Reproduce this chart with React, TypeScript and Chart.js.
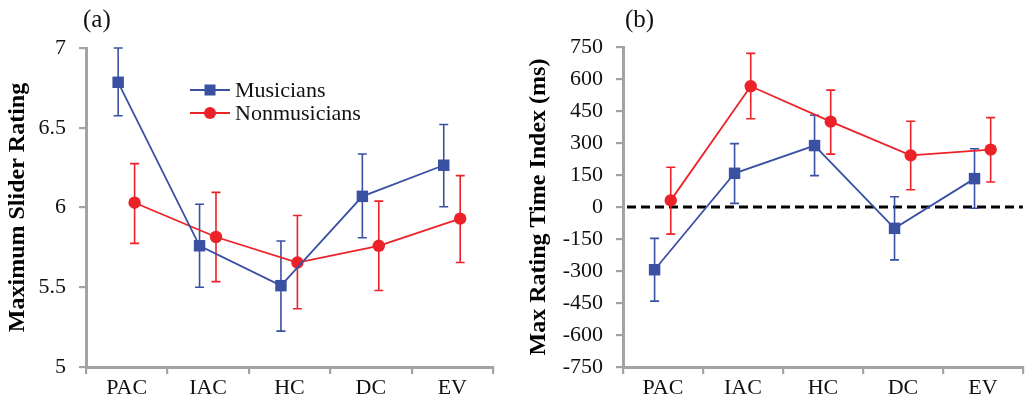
import { useEffect, useRef } from 'react';
import { Chart, registerables } from 'chart.js';

Chart.register(...registerables);

// ---------- data ----------
const categories = ['PAC', 'IAC', 'HC', 'DC', 'EV'];
const seriesNames = ['Musicians', 'Nonmusicians'];

// Panel (a): Maximum Slider Rating
const ratingMusicians = [6.785, 5.76, 5.51, 6.07, 6.265];
const ratingMusiciansHigh = [7.0, 6.02, 5.79, 6.335, 6.52];
const ratingMusiciansLow = [6.575, 5.5, 5.225, 5.81, 6.005];
const ratingNonmusicians = [6.03, 5.815, 5.655, 5.76, 5.93];
const ratingNonmusiciansHigh = [6.275, 6.095, 5.95, 6.04, 6.2];
const ratingNonmusiciansLow = [5.775, 5.535, 5.365, 5.48, 5.655];
const ratingTicks = [5, 5.5, 6, 6.5, 7];

// Panel (b): Max Rating Time Index (ms)
const timeMusicians = [-294, 158, 288, -100, 133];
const timeMusiciansHigh = [-147, 297, 430, 48, 273];
const timeMusiciansLow = [-441, 17, 147, -248, -6];
const timeNonmusicians = [31, 566, 400, 242, 269];
const timeNonmusiciansHigh = [186, 720, 548, 402, 419];
const timeNonmusiciansLow = [-127, 414, 248, 81, 117];
const timeTicks = [-750, -600, -450, -300, -150, 0, 150, 300, 450, 600, 750];
const referenceLine = 0;

// ---------- styles ----------
const BLUE = '#3a51a3';
const RED = '#ec2229';
const GRAY = '#a3a3a3';
const FONT = '"Liberation Serif", "Times New Roman", serif';
const OFFSET_M = -0.105;
const OFFSET_N = 0.097;

const errorBarPlugin = {
  id: 'errorBars',
  beforeDatasetsDraw(chart: any) {
    const ctx = chart.ctx;
    const yScale = chart.scales.y;
    chart.data.datasets.forEach((ds: any, i: number) => {
      const meta = chart.getDatasetMeta(i);
      if (!ds.errHigh) return;
      ctx.save();
      ctx.strokeStyle = ds.borderColor;
      ctx.lineWidth = 1.6;
      meta.data.forEach((pt: any, j: number) => {
        const x = pt.x;
        const yh = yScale.getPixelForValue(ds.errHigh[j]);
        const yl = yScale.getPixelForValue(ds.errLow[j]);
        const cap = 4.5;
        ctx.beginPath();
        ctx.moveTo(x, yh);
        ctx.lineTo(x, yl);
        ctx.moveTo(x - cap, yh);
        ctx.lineTo(x + cap, yh);
        ctx.moveTo(x - cap, yl);
        ctx.lineTo(x + cap, yl);
        ctx.stroke();
      });
      ctx.restore();
    });
  },
};

const refLinePlugin = {
  id: 'refLine',
  beforeDatasetsDraw(chart: any, _args: any, opts: any) {
    if (!opts || opts.value === undefined) return;
    const ctx = chart.ctx;
    const y = chart.scales.y.getPixelForValue(opts.value);
    const { left, right } = chart.chartArea;
    ctx.save();
    ctx.strokeStyle = '#000';
    ctx.lineWidth = 3;
    ctx.setLineDash([9, 5]);
    ctx.beginPath();
    ctx.moveTo(left + 4, y);
    ctx.lineTo(right, y);
    ctx.stroke();
    ctx.restore();
  },
};

const panelLabelPlugin = {
  id: 'panelLabel',
  afterDraw(chart: any, _args: any, opts: any) {
    if (!opts || !opts.text) return;
    const ctx = chart.ctx;
    ctx.save();
    ctx.font = `25px ${FONT}`;
    ctx.fillStyle = '#111';
    ctx.textBaseline = 'middle';
    ctx.textAlign = 'left';
    ctx.fillText(opts.text, opts.x, opts.y);
    ctx.restore();
  },
};

const customLegendPlugin = {
  id: 'customLegend',
  afterDraw(chart: any, _args: any, opts: any) {
    if (!opts || !opts.show) return;
    const ctx = chart.ctx;
    chart.data.datasets.forEach((ds: any, i: number) => {
      const y = opts.y + i * opts.rowGap;
      const x0 = opts.x;
      const x1 = opts.x + 40;
      ctx.save();
      ctx.strokeStyle = ds.borderColor;
      ctx.fillStyle = ds.backgroundColor;
      ctx.lineWidth = 1.8;
      ctx.beginPath();
      ctx.moveTo(x0, y);
      ctx.lineTo(x1, y);
      ctx.stroke();
      const cx = (x0 + x1) / 2;
      if (ds.pointStyle === 'rect') {
        ctx.fillRect(cx - 5.5, y - 5.5, 11, 11);
      } else {
        ctx.beginPath();
        ctx.arc(cx, y, 6, 0, Math.PI * 2);
        ctx.fill();
      }
      ctx.font = `22px ${FONT}`;
      ctx.fillStyle = '#111';
      ctx.textBaseline = 'middle';
      ctx.fillText(ds.label, x1 + 5, y + 1);
      ctx.restore();
    });
  },
};

function makeDatasets(
  m: number[], mh: number[], ml: number[],
  n: number[], nh: number[], nl: number[],
) {
  return [
    {
      label: seriesNames[0],
      data: m.map((v, i) => ({ x: i + OFFSET_M, y: v })),
      errHigh: mh,
      errLow: ml,
      borderColor: BLUE,
      backgroundColor: BLUE,
      borderWidth: 1.8,
      pointStyle: 'rect',
      pointRadius: 8.1,
      pointBorderWidth: 0,
      showLine: true,
    },
    {
      label: seriesNames[1],
      data: n.map((v, i) => ({ x: i + OFFSET_N, y: v })),
      errHigh: nh,
      errLow: nl,
      borderColor: RED,
      backgroundColor: RED,
      borderWidth: 1.8,
      pointStyle: 'circle',
      pointRadius: 6.2,
      pointBorderWidth: 0,
      showLine: true,
    },
  ];
}

function makeOptions(cfg: {
  yTicks: number[];
  yTitle: string;
  yWidth: number;
  titlePad: number;
  padRight: number;
  padTop: number;
  label: { text: string; x: number; y: number };
  legend?: { show: boolean; x: number; y: number; rowGap: number };
  ref?: { value: number };
}) {
  const xTickValues: number[] = [];
  for (let k = -0.5; k <= categories.length - 0.5 + 1e-9; k += 0.5) xTickValues.push(k);
  return {
    responsive: false,
    animation: false,
    devicePixelRatio: 1,
    layout: { padding: { left: 0, right: cfg.padRight, top: cfg.padTop, bottom: 0 } },
    plugins: {
      legend: { display: false },
      tooltip: { enabled: false },
      panelLabel: cfg.label,
      customLegend: cfg.legend || { show: false },
      refLine: cfg.ref || {},
    },
    scales: {
      x: {
        type: 'linear',
        min: -0.5,
        max: categories.length - 0.5,
        afterBuildTicks: (s: any) => {
          s.ticks = xTickValues.map((v) => ({ value: v }));
        },
        afterFit: (s: any) => {
          s.height = 36;
        },
        ticks: {
          autoSkip: false,
          maxRotation: 0,
          padding: 1,
          color: '#111',
          font: { family: FONT, size: 22 },
          callback: (v: number) => (Number.isInteger(v) ? categories[v] : ''),
        },
        grid: {
          drawOnChartArea: false,
          tickLength: 7,
          lineWidth: 2.2,
          tickColor: (c: any) =>
            c.tick && Number.isInteger(c.tick.value) ? 'rgba(0,0,0,0)' : GRAY,
        },
        border: { color: GRAY, width: 3 },
      },
      y: {
        type: 'linear',
        min: cfg.yTicks[0],
        max: cfg.yTicks[cfg.yTicks.length - 1],
        afterBuildTicks: (s: any) => {
          s.ticks = cfg.yTicks.map((v) => ({ value: v }));
        },
        afterFit: (s: any) => {
          s.width = cfg.yWidth;
        },
        ticks: {
          padding: 13,
          color: '#111',
          font: { family: FONT, size: 22 },
          callback: (v: number) => String(v),
        },
        grid: {
          drawOnChartArea: false,
          tickLength: 7,
          lineWidth: 2.2,
          color: GRAY,
        },
        border: { color: GRAY, width: 3 },
        title: {
          display: true,
          text: cfg.yTitle,
          color: '#000',
          font: { family: FONT, size: 24, weight: 'bold' },
          padding: { top: cfg.titlePad, bottom: 0 },
        },
      },
    },
  };
}

function Panel(props: { width: number; height: number; config: any }) {
  const ref = useRef<HTMLCanvasElement | null>(null);
  useEffect(() => {
    if (!ref.current) return;
    const chart = new Chart(ref.current, props.config);
    return () => chart.destroy();
  }, []);
  return (
    <canvas
      ref={ref}
      width={props.width}
      height={props.height}
      style={{ display: 'block', width: props.width, height: props.height }}
    />
  );
}

export default function App() {
  const configA = {
    type: 'scatter',
    data: {
      datasets: makeDatasets(
        ratingMusicians, ratingMusiciansHigh, ratingMusiciansLow,
        ratingNonmusicians, ratingNonmusiciansHigh, ratingNonmusiciansLow,
      ),
    },
    options: makeOptions({
      yTicks: ratingTicks,
      yTitle: 'Maximum Slider Rating',
      yWidth: 86,
      titlePad: 3,
      padRight: 22,
      padTop: 48,
      label: { text: '(a)', x: 83, y: 20 },
      legend: { show: true, x: 190, y: 90, rowGap: 23 },
    }),
    plugins: [errorBarPlugin, panelLabelPlugin, customLegendPlugin],
  };
  const configB = {
    type: 'scatter',
    data: {
      datasets: makeDatasets(
        timeMusicians, timeMusiciansHigh, timeMusiciansLow,
        timeNonmusicians, timeNonmusiciansHigh, timeNonmusiciansLow,
      ),
    },
    options: makeOptions({
      yTicks: timeTicks,
      yTitle: 'Max Rating Time Index (ms)',
      yWidth: 108,
      titlePad: 9,
      padRight: 4,
      padTop: 47,
      label: { text: '(b)', x: 110, y: 20 },
      ref: { value: referenceLine },
    }),
    plugins: [refLinePlugin, errorBarPlugin, panelLabelPlugin],
  };
  return (
    <div
      style={{
        position: 'absolute',
        left: 0,
        top: 0,
        width: 1031,
        height: 403,
        display: 'flex',
        background: '#fff',
      }}
    >
      <Panel width={515} height={403} config={configA} />
      <Panel width={516} height={403} config={configB} />
    </div>
  );
}
